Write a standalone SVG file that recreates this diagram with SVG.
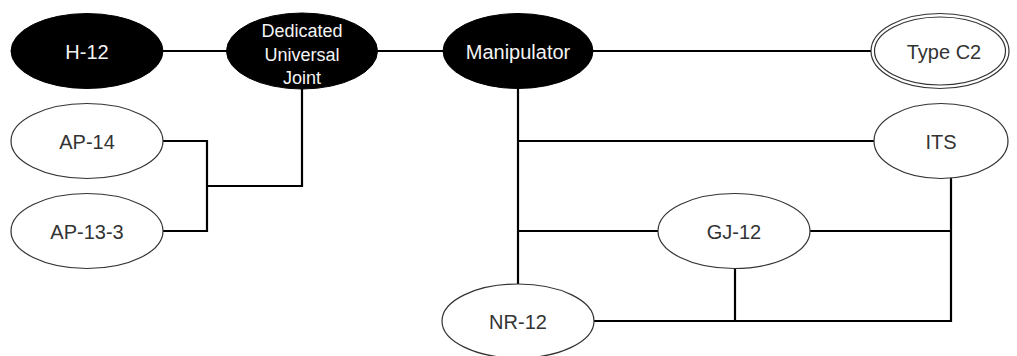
<svg xmlns="http://www.w3.org/2000/svg" width="1017" height="356" viewBox="0 0 1017 356">
<style>
.bk ellipse{fill:#000;stroke:#000;stroke-width:1}
.wh ellipse{fill:#fff;stroke:#333;stroke-width:1.2}
.bk text{fill:#f4f4f4}
.wh text{fill:#333}
text{font-family:"Liberation Sans",Arial,sans-serif;font-size:20px;text-anchor:middle}
.small{font-size:18px}
#connectors path{fill:none;stroke:#000;stroke-width:2.2}
</style>
<rect width="1017" height="356" fill="#fff"/>
<g id="connectors">
<path d="M163 51H227"/>
<path d="M378 51H443"/>
<path d="M593 51H871"/>
<path d="M302 89V186H207"/>
<path d="M163 141H207V231H163"/>
<path d="M518 89V284"/>
<path d="M518 141H875"/>
<path d="M518 231H658"/>
<path d="M810 231H951"/>
<path d="M951 177V321H594"/>
<path d="M735 268V321"/>
</g>
<g id="h12" class="bk"><ellipse cx="87" cy="51" rx="76" ry="37.5"/><text x="87" y="59">H-12</text></g>
<g id="duj" class="bk"><ellipse cx="302" cy="51" rx="75.5" ry="38"/><text class="small" x="302" y="37">Dedicated</text><text class="small" x="302" y="61">Universal</text><text class="small" x="302" y="84">Joint</text></g>
<g id="manipulator" class="bk"><ellipse cx="518" cy="51" rx="75" ry="37.5"/><text x="518" y="59">Manipulator</text></g>
<g id="typec2" class="wh"><ellipse cx="940" cy="51" rx="69" ry="37.5"/><ellipse cx="940" cy="51" rx="65.5" ry="34"/><text x="944" y="59">Type C2</text></g>
<g id="ap14" class="wh"><ellipse cx="87" cy="141" rx="76" ry="37.5"/><text x="87" y="149">AP-14</text></g>
<g id="ap133" class="wh"><ellipse cx="87" cy="231" rx="76" ry="37.5"/><text x="87" y="239">AP-13-3</text></g>
<g id="its" class="wh"><ellipse cx="941" cy="141" rx="67" ry="37.5"/><text x="941" y="149">ITS</text></g>
<g id="gj12" class="wh"><ellipse cx="734" cy="231" rx="76" ry="37.5"/><text x="734" y="239">GJ-12</text></g>
<g id="nr12" class="wh"><ellipse cx="518" cy="321" rx="76" ry="37"/><text x="518" y="329">NR-12</text></g>
</svg>
